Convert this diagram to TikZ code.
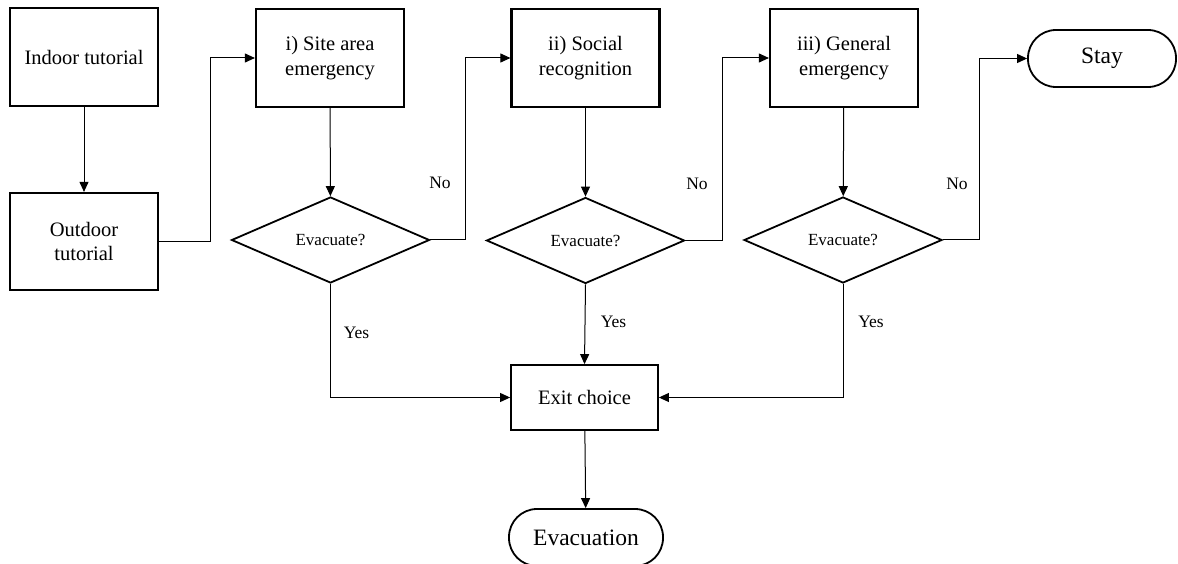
\documentclass[tikz,border=0pt]{standalone}
\usepackage{fontspec}
\setmainfont{Liberation Serif}
\usetikzlibrary{shapes.geometric,arrows.meta}

\begin{document}
\begin{tikzpicture}[x=1pt,y=-1pt,
  box/.style={draw,line width=2.2pt,minimum width=148pt,minimum height=98pt,
    align=center,font=\fontsize{20.5}{24.6}\selectfont},
  term/.style={draw,line width=1.8pt,rounded corners=28pt,minimum width=150pt,
    minimum height=57pt,font=\fontsize{23.5}{28}\selectfont},
  test/.style={draw,diamond,line width=1.8pt,inner sep=0pt,aspect=2.3,
    minimum width=198pt,minimum height=86pt,font=\fontsize{17}{20}\selectfont},
  flow/.style={line width=1pt,-{Triangle[length=10pt,width=9pt]}},
  lab/.style={font=\fontsize{17.5}{21}\selectfont}]
  \useasboundingbox (0,0) rectangle (1178,564);
  \node[box] (indoor) at (84,57) {Indoor tutorial};
  \node[box,minimum height=97pt] (outdoor) at (84,241.5) {Outdoor\\tutorial};
  \node[box] (site) at (330,58) {i) Site area\\emergency};
  \node[box] (social) at (585.5,58) {ii) Social\\recognition};
  \node[box] (general) at (844,58) {iii) General\\emergency};
  \node[term,minimum width=148pt] (stay) at (1102,58.5) {Stay};
  \node[test] (evsite) at (330.5,240) {Evacuate?};
  \node[test] (evsocial) at (585.5,240.5) {Evacuate?};
  \node[test] (evgeneral) at (843,240) {Evacuate?};
  \node[box,line width=1.8pt,minimum width=147pt,minimum height=65pt] (exit) at (584.5,397.5) {Exit choice};
  \node[term,minimum width=154pt] (evac) at (586,537.5) {Evacuation};
  \draw[flow] (indoor) -- (outdoor);
  \draw[flow] (outdoor.east) -- ++(51,0) |- (site.west);
  \draw[flow] (site) -- (evsite);
  \draw[flow] (evsite.east) -- ++(35.5,0) |- (social.west);
  \draw[flow] (social) -- (evsocial);
  \draw[flow] (evsocial.east) -- ++(37.5,0) |- (general.west);
  \draw[flow] (general) -- (evgeneral);
  \draw[flow] (evgeneral.east) -- ++(37,0) |- (stay.west);
  \draw[flow] (evsite.south) |- (exit.west);
  \draw[flow] (evsocial.south) -- (exit.north);
  \draw[flow] (evgeneral.south) |- (exit.east);
  \draw[flow] (exit) -- (evac);
  \node[lab] (nosite) at (440,183) {No};
  \node[lab] (nosocial) at (697,184) {No};
  \node[lab] (nogeneral) at (957,184) {No};
  \node[lab] (yessite) at (356.5,333) {Yes};
  \node[lab] (yessocial) at (613.5,322) {Yes};
  \node[lab] (yesgeneral) at (871,322) {Yes};
\end{tikzpicture}
\end{document}
